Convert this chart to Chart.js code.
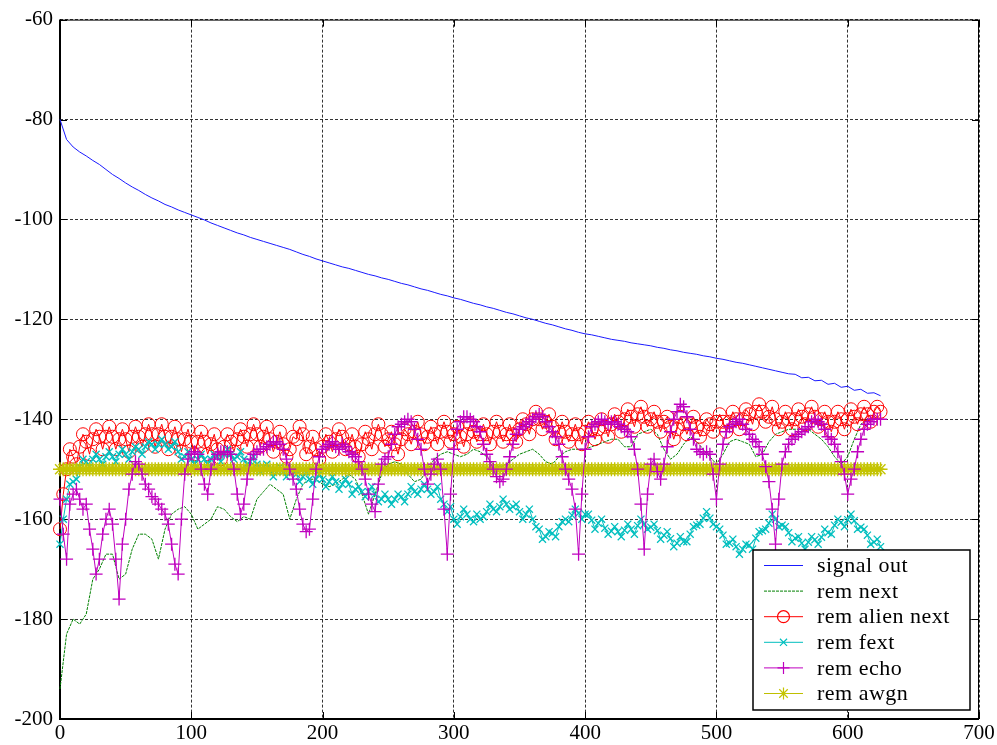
<!DOCTYPE html>
<html>
<head>
<meta charset="utf-8">
<script src="https://cdn.jsdelivr.net/npm/chart.js@4.4.1/dist/chart.umd.min.js"></script>
<style>
html,body{margin:0;padding:0;background:#fff;}
#wrap{width:997px;height:745px;position:relative;}
</style>
</head>
<body>
<div id="wrap"><canvas id="c" width="997" height="745"></canvas></div>
<script>
// x positions of the main readings (every 5 samples)
const xs = [0,5,10,15,20,25,30,35,40,45,50,55,60,65,70,75,80,85,90,95,100,105,110,115,120,125,130,135,140,145,150,155,160,165,170,175,180,185,190,195,200,205,210,215,220,225,230,235,240,245,250,255,260,265,270,275,280,285,290,295,300,305,310,315,320,325,330,335,340,345,350,355,360,365,370,375,380,385,390,395,400,405,410,415,420,425,430,435,440,445,450,455,460,465,470,475,480,485,490,495,500,505,510,515,520,525,530,535,540,545,550,555,560,565,570,575,580,585,590,595,600,605,610,615,620,625];
// x positions of the in-between readings of the noisy marker series
const xsMid = [2.5,7.5,12.5,17.5,22.5,27.5,32.5,37.5,42.5,47.5,52.5,57.5,62.5,67.5,72.5,77.5,82.5,87.5,92.5,97.5,102.5,107.5,112.5,117.5,122.5,127.5,132.5,137.5,142.5,147.5,152.5,157.5,162.5,167.5,172.5,177.5,182.5,187.5,192.5,197.5,202.5,207.5,212.5,217.5,222.5,227.5,232.5,237.5,242.5,247.5,252.5,257.5,262.5,267.5,272.5,277.5,282.5,287.5,292.5,297.5,302.5,307.5,312.5,317.5,322.5,327.5,332.5,337.5,342.5,347.5,352.5,357.5,362.5,367.5,372.5,377.5,382.5,387.5,392.5,397.5,402.5,407.5,412.5,417.5,422.5,427.5,432.5,437.5,442.5,447.5,452.5,457.5,462.5,467.5,472.5,477.5,482.5,487.5,492.5,497.5,502.5,507.5,512.5,517.5,522.5,527.5,532.5,537.5,542.5,547.5,552.5,557.5,562.5,567.5,572.5,577.5,582.5,587.5,592.5,597.5,602.5,607.5,612.5,617.5,622.5];

const signalOut = [-80,-84,-85.5,-86.5,-87.3,-88.2,-89,-90,-91,-91.8,
-92.7,-93.5,-94.2,-95,-95.7,-96.3,-97,-97.5,-98.1,-98.6,
-99.1,-99.6,-100.1,-100.7,-101.2,-101.7,-102.2,-102.7,-103.1,-103.6,
-104,-104.4,-104.8,-105.2,-105.6,-106,-106.5,-107,-107.4,-107.9,
-108.3,-108.7,-109.1,-109.5,-109.8,-110.2,-110.6,-111,-111.3,-111.7,
-112,-112.4,-112.8,-113.1,-113.5,-113.9,-114.2,-114.6,-115,-115.3,
-115.7,-116,-116.4,-116.8,-117.1,-117.5,-117.8,-118.2,-118.6,-118.9,
-119.3,-119.7,-120,-120.4,-120.8,-121.1,-121.5,-121.9,-122.2,-122.6,
-122.9,-123.1,-123.4,-123.7,-124,-124.2,-124.4,-124.7,-124.9,-125.1,
-125.3,-125.6,-125.8,-126.1,-126.3,-126.6,-126.8,-127,-127.3,-127.5,
-127.8,-128,-128.3,-128.6,-128.8,-129.1,-129.4,-129.7,-130,-130.3,
-130.6,-130.9,-131,-131.7,-131.6,-132.3,-132.2,-133,-132.8,-133.6,
-133.4,-134.2,-134,-134.8,-134.7,-135.3];

const remNext = [-194,-183,-180,-181,-179,-172,-170,-167,-167,-172,
-171,-166,-163,-163,-164,-168,-162,-159,-158,-157.5,
-159,-162,-161,-160,-157.5,-158,-159.5,-160.5,-159.5,-160,
-156,-154.5,-153,-154,-155,-160,-156,-153,-152,-152,
-153,-153.5,-153,-152,-151,-152,-155,-159,-155,-151,
-149,-148.5,-149,-151,-152.5,-152,-150,-148,-147,-146.5,
-147,-147.5,-147,-146,-146.5,-147.5,-149,-149.5,-149,-148,
-147,-146.5,-146,-147,-148.5,-149,-147.5,-146.5,-146,-146,
-146,-145.5,-145,-144.5,-144,-144,-145.5,-145.5,-143,-142.5,
-142,-143,-146,-148,-147,-145,
-143.5,-144.5,-146,-147.5,-149,-147,-144.5,-144,-144.5,-145,
-147.5,-147,-144.5,-143,-142.5,-142,-142,-142,-142,-143,
-144,-145.5,-147.5,-149,-147.5,-144,-141,-140,-140,-140];

const remAlienNext = [-162,-150,-147.5,-145.5,-144.5,-144,-143.5,-143.5,-143.5,-144,
-144,-143.5,-143.5,-143,-143,-143,-143.5,-143.5,-144,-144,
-144.5,-144.5,-144.5,-145,-146,-145.5,-144.5,-144,-143.5,-143,
-143,-143.5,-144,-144.5,-145,-146,-144,-143,-145.5,-146,
-145.5,-144.5,-144,-143.5,-145,-145.5,-145,-144,-143,-143,
-144,-145,-144,-143,-142.5,-143,-143.5,-143,-142.5,-142.5,
-143,-143.5,-143,-142.5,-143,-143,-142.5,-142.5,-143,-143,
-142,-141,-140,-140,-140.5,-141.5,-142.5,-142.5,-143,-143,
-142.5,-142,-142,-141.5,-141,-140.5,-140,-139.5,-139,-139.5,
-140,-140.5,-140.5,-141.5,-142,-141,-141,-141.5,-142,-141,
-140.5,-140.5,-140.5,-140,-140,-139,-138.5,-138.5,-139.5,-140,
-140.5,-140,-140,-139.5,-139,-139.5,-140,-140.5,-140.5,-140,
-140,-139.5,-139,-139,-138.5,-138.5];
const remAlienNextMid = [-155,-146,-149,-143,-147,-142,-146,-141.5,-146,-142,
-146.5,-141.5,-145.5,-141,-145.5,-141,-146,-141.5,-146.5,-142,
-147,-142.5,-147,-143,-148,-143,-146.5,-142,-145.5,-141,
-145.5,-141.5,-146.5,-142.5,-147.5,-143.5,-141.5,-147,-143.5,-148,
-143,-146.5,-142,-146,-143,-147.5,-142.5,-146,-141,-145.5,
-142.5,-147,-142,-145,-140.5,-145,-141.5,-145,-140.5,-144.5,
-141.5,-145.5,-141,-144.5,-141,-145,-140.5,-144.5,-141,-144.5,
-140,-143,-138.5,-142,-139,-144,-140.5,-144.5,-141,-145,
-140.5,-144,-140,-143.5,-139,-142.5,-138,-141.5,-137.5,-141.5,
-138.5,-142.5,-139.5,-144,-139.5,-143,-139.5,-143.5,-140,-142.5,
-139,-142.5,-138.5,-142,-138,-141,-137,-140.5,-137.5,-142,
-138.5,-142,-138,-141,-137.5,-141.5,-138.5,-142.5,-138.5,-142,
-138,-141,-137.5,-140.5,-137.5];

const remFext = [-165,-156,-152.5,-149.5,-148.5,-148,-148,-147.5,-147.5,-147,
-147,-146.5,-146,-145.5,-145,-145,-145,-145.5,-146.5,-147.5,
-148,-148,-148,-148,-147.5,-147,-147,-147.5,-148,-148.5,
-149,-149.5,-150,-150.5,-150.5,-150.5,-151,-151.5,-152,-152,
-152,-152.5,-152.5,-153,-153,-154,-154.5,-154.5,-155,-156,
-156,-156,-155.5,-155,-154.5,-154,-154,-154.5,-156,-158.5,
-160,-159.5,-159,-160.5,-160,-158.5,-158,-157.5,-157,-157.5,
-158.5,-159,-160,-162,-163.5,-162.8,-161.5,-160,-159.2,-158.8,
-159,-160.2,-160.8,-161.8,-162.4,-162.5,-162.2,-162,-161.3,-161,
-161.6,-162.3,-163.2,-163.9,-164.8,-164.5,-163,-161.2,-159.8,-159.8,
-161.5,-163.2,-164.8,-165.5,-166,-165.2,-163.8,-162.3,-160.8,-160,
-161.2,-162.7,-163.8,-164.8,-164.6,-164.1,-163.6,-162.7,-161.2,-160.6,
-160.1,-160.3,-161.6,-163.2,-164.6,-165.5];
const remFextMid = [-160,-153,-152,-148,-149.5,-147,-149,-146.5,-148.5,-146,
-148,-145.5,-147,-144.5,-146,-144,-146,-144.5,-148,-146.5,
-149,-147,-149,-147,-148.5,-146,-148,-146.5,-149,-147.5,
-150.5,-149,-151.5,-149.5,-151.5,-150,-152.5,-150.5,-153,-151,
-153.5,-151.5,-154,-152,-155,-153.5,-155.5,-153.5,-156.5,-155,
-157,-155,-156.5,-153.5,-155,-153,-155,-153.5,-157,-157.5,
-161,-158,-160,-159,-159.5,-157,-158.5,-156,-158,-157,
-160,-158,-161.5,-164,-162.5,-163.5,-160.5,-160.5,-158,-160,
-159,-162,-160,-163,-161.5,-163.5,-161,-163,-160,-162,
-161,-164,-162.5,-165.5,-163.5,-164.5,-161.5,-161,-158.5,-161,
-162,-165,-164,-167,-165,-166,-162.5,-162,-159,-161.5,
-161.5,-164.5,-163.5,-166,-163.5,-165,-162,-163,-160,-161.5,
-159,-162,-162,-165,-164];

const remEcho = [-156,-168,-155,-156,-157,-166,-168,-160,-161,-176,
-160,-151,-149,-153,-155.5,-157,-159,-165,-171,-151,
-147,-147,-153,-150,-147,-146.5,-147,-155,-157,-148,
-146.5,-146,-145,-144.5,-146,-150,-154,-161,-162,-150,
-146,-145,-145.5,-145,-146.5,-147.5,-150,-155,-158.5,-149,
-147.5,-143,-141,-140,-142,-146,-153,-149,-150,-167,
-146,-140.5,-139.5,-140.5,-142.5,-147,-150,-152.5,-150,-145,
-142,-141,-140,-139,-140.5,-142.5,-145,-150,-154,-167,
-146,-141.5,-140.5,-140.5,-140.5,-141,-142,-143.5,-150,-166,
-149,-150.5,-149,-142.5,-138.5,-137.5,-142,-146,-147,-147,
-156,-145,-141.5,-140.5,-141,-143,-144.5,-147,-152.5,-165,
-149,-145,-143.5,-142.5,-141.5,-140,-141,-143.5,-145,-148.5,
-155,-150,-144,-141,-140,-140];
const remEchoMid = [-163,-157,-154,-158,-162,-171,-163,-158,-168,-165,
-154,-148.5,-151,-154,-156,-158,-161,-169,-160,-148,
-146.5,-150,-155,-148,-146.5,-146.5,-150,-159,-152,-147,
-146,-145.5,-144.5,-145,-148,-152,-158,-162.5,-156,-147.5,
-145.5,-144.5,-146,-145.5,-147,-148.5,-152,-157,-153,-148,
-145,-141.5,-140.5,-140.5,-144,-150,-151,-148,-158,-155,
-142,-139.5,-140,-141.5,-145,-148.5,-151.5,-152,-147.5,-143,
-141.5,-140.5,-139.5,-139.5,-141.5,-143.5,-147.5,-152,-158,-155,
-143.5,-141,-140,-141,-140.5,-141.5,-142.5,-146,-157,-155,
-148,-152,-145.5,-140,-137,-139.5,-144,-146.5,-146.5,-151,
-149,-142.5,-141,-140,-142,-144,-145.5,-149.5,-158,-156,
-146.5,-144,-143,-142,-140.5,-140.5,-142,-144,-146.5,-151,
-152,-146.5,-142,-140.5,-140];

const remAwgn = [-150,-150,-150,-150,-150,-150,-150,-150,-150,-150,
-150,-150,-150,-150,-150,-150,-150,-150,-150,-150,
-150,-150,-150,-150,-150,-150,-150,-150,-150,-150,
-150,-150,-150,-150,-150,-150,-150,-150,-150,-150,
-150,-150,-150,-150,-150,-150,-150,-150,-150,-150,
-150,-150,-150,-150,-150,-150,-150,-150,-150,-150,
-150,-150,-150,-150,-150,-150,-150,-150,-150,-150,
-150,-150,-150,-150,-150,-150,-150,-150,-150,-150,
-150,-150,-150,-150,-150,-150,-150,-150,-150,-150,
-150,-150,-150,-150,-150,-150,-150,-150,-150,-150,
-150,-150,-150,-150,-150,-150,-150,-150,-150,-150,
-150,-150,-150,-150,-150,-150,-150,-150,-150,-150,
-150,-150,-150,-150,-150,-150];
const remAwgnMid = [-150,-150,-150,-150,-150,-150,-150,-150,-150,-150,
-150,-150,-150,-150,-150,-150,-150,-150,-150,-150,
-150,-150,-150,-150,-150,-150,-150,-150,-150,-150,
-150,-150,-150,-150,-150,-150,-150,-150,-150,-150,
-150,-150,-150,-150,-150,-150,-150,-150,-150,-150,
-150,-150,-150,-150,-150,-150,-150,-150,-150,-150,
-150,-150,-150,-150,-150,-150,-150,-150,-150,-150,
-150,-150,-150,-150,-150,-150,-150,-150,-150,-150,
-150,-150,-150,-150,-150,-150,-150,-150,-150,-150,
-150,-150,-150,-150,-150,-150,-150,-150,-150,-150,
-150,-150,-150,-150,-150,-150,-150,-150,-150,-150,
-150,-150,-150,-150,-150,-150,-150,-150,-150,-150,
-150,-150,-150,-150,-150];

const seriesNames = ['signal out','rem next','rem alien next','rem fext','rem echo','rem awgn'];
const xTicks = [0,100,200,300,400,500,600,700];
const yTicks = [-200,-180,-160,-140,-120,-100,-80,-60];

function pts(vals){ return vals.map((v,i)=>({x:xs[i], y:v})); }
function ptsFine(vals, mids){
  const out = [];
  vals.forEach((v,i)=>{
    out.push({x:xs[i], y:v});
    if (i < mids.length) out.push({x:xsMid[i], y:mids[i]});
  });
  return out;
}

const FONT = 'Liberation Serif, Times New Roman, serif';

function drawMarker(ctx, style, x, y, r, color){
  ctx.save();
  ctx.strokeStyle = color; ctx.lineWidth = 1.2;
  ctx.beginPath();
  if (style==='circle'){ ctx.arc(x,y,r,0,Math.PI*2); }
  if (style==='cross' || style==='star'){ ctx.moveTo(x-r,y); ctx.lineTo(x+r,y); ctx.moveTo(x,y-r); ctx.lineTo(x,y+r); }
  if (style==='crossRot' || style==='star'){ const d=r*0.707; ctx.moveTo(x-d,y-d); ctx.lineTo(x+d,y+d); ctx.moveTo(x-d,y+d); ctx.lineTo(x+d,y-d); }
  ctx.stroke();
  ctx.restore();
}

const boxPlugin = {
  id:'box',
  beforeDatasetsDraw(chart){
    const {ctx, chartArea:a, scales} = chart;
    ctx.save();
    ctx.strokeStyle = '#000';
    ctx.lineWidth = 1;
    ctx.strokeRect(a.left+0.5, a.top+0.5, a.right-a.left-1, a.bottom-a.top-1);
    ctx.lineWidth = 2;
    ctx.beginPath();
    ctx.moveTo(a.left, a.top); ctx.lineTo(a.left, a.bottom); ctx.lineTo(a.right, a.bottom);
    ctx.stroke();
    ctx.lineWidth = 1;
    ctx.beginPath();
    xTicks.forEach(v=>{
      const px = Math.round(scales.x.getPixelForValue(v))+0.5;
      ctx.moveTo(px, a.bottom); ctx.lineTo(px, a.bottom-7);
      ctx.moveTo(px, a.top); ctx.lineTo(px, a.top+7);
    });
    yTicks.forEach(v=>{
      const py = Math.round(scales.y.getPixelForValue(v))+0.5;
      ctx.moveTo(a.left, py); ctx.lineTo(a.left+7, py);
      ctx.moveTo(a.right, py); ctx.lineTo(a.right-7, py);
    });
    ctx.stroke();
    ctx.restore();
  }
};

const legendPlugin = {
  id:'lgd',
  afterDraw(chart){
    const ctx = chart.ctx;
    const bx=753, by=550, bw=217, bh=160;
    ctx.save();
    ctx.fillStyle='#fff'; ctx.fillRect(bx,by,bw,bh);
    ctx.strokeStyle='#000'; ctx.lineWidth=1.5; ctx.strokeRect(bx,by,bw,bh);
    chart.data.datasets.forEach((ds,i)=>{
      const y = 565.5 + i*25.6;
      ctx.save();
      ctx.strokeStyle = ds.borderColor; ctx.lineWidth = 1;
      ctx.setLineDash(ds.borderDash || []);
      ctx.beginPath(); ctx.moveTo(764,y); ctx.lineTo(803,y); ctx.stroke();
      ctx.restore();
      if (ds.pointRadius > 0) drawMarker(ctx, ds.pointStyle, 783.5, y, Math.min(ds.pointRadius, 6), ds.pointBorderColor);
      ctx.fillStyle = '#000';
      ctx.font = '22px ' + FONT;
      try { ctx.letterSpacing = '0.5px'; } catch(e){}
      ctx.textAlign='left'; ctx.textBaseline='middle';
      ctx.fillText(ds.label, 817, y+1);
    });
    ctx.restore();
  }
};

const tickFont = {family: FONT, size: 21};

new Chart(document.getElementById('c'), {
  type:'line',
  data:{ datasets:[
    {label:seriesNames[0], data:pts(signalOut), borderColor:'#1a1aff', borderWidth:1, pointRadius:0, order:6, clip:false},
    {label:seriesNames[1], data:pts(remNext), borderColor:'#008000', borderWidth:1, borderDash:[3,1], pointRadius:0, order:5, clip:false},
    {label:seriesNames[2], data:ptsFine(remAlienNext, remAlienNextMid), borderColor:'#ff0000', borderWidth:1, pointStyle:'circle', pointRadius:6.5, pointBorderWidth:1, pointBorderColor:'#ff0000', pointBackgroundColor:'rgba(0,0,0,0)', order:4, clip:false},
    {label:seriesNames[3], data:ptsFine(remFext, remFextMid), borderColor:'#00bfbf', borderWidth:1, pointStyle:'crossRot', pointRadius:5, pointBorderWidth:1.3, pointBorderColor:'#00bfbf', order:3, clip:false},
    {label:seriesNames[4], data:ptsFine(remEcho, remEchoMid), borderColor:'#bf00bf', borderWidth:1, pointStyle:'cross', pointRadius:6.5, pointBorderWidth:1.3, pointBorderColor:'#bf00bf', order:1, clip:false},
    {label:seriesNames[5], data:ptsFine(remAwgn, remAwgnMid), borderColor:'#bfbf00', borderWidth:1, pointStyle:'star', pointRadius:7, pointBorderWidth:1.4, pointBorderColor:'#c4c400', order:2, clip:false}
  ]},
  options:{
    responsive:false, animation:false, events:[],
    layout:{padding:{top:17, right:18, left:0, bottom:0}},
    elements:{line:{tension:0}},
    plugins:{legend:{display:false}, tooltip:{enabled:false}},
    scales:{
      x:{type:'linear', min:0, max:700,
        afterBuildTicks:(s)=>{ s.ticks = xTicks.map(v=>({value:v})); },
        afterFit:(s)=>{ s.height = 26; },
        grid:{color:'rgba(0,0,0,0.8)', lineWidth:1, drawTicks:false},
        border:{display:false, dash:[3,2]},
        ticks:{color:'#000', font:tickFont, padding:2, maxRotation:0, autoSkip:false, callback:(v)=>String(v)}
      },
      y:{type:'linear', min:-200, max:-60,
        afterBuildTicks:(s)=>{ s.ticks = yTicks.map(v=>({value:v})); },
        afterFit:(s)=>{ s.width = 60; },
        grid:{color:'rgba(0,0,0,0.8)', lineWidth:1, drawTicks:false},
        border:{display:false, dash:[3,2]},
        ticks:{color:'#000', font:tickFont, padding:7, autoSkip:false, callback:(v)=>String(v)}
      }
    }
  },
  plugins:[boxPlugin, legendPlugin]
});
</script>
</body>
</html>
